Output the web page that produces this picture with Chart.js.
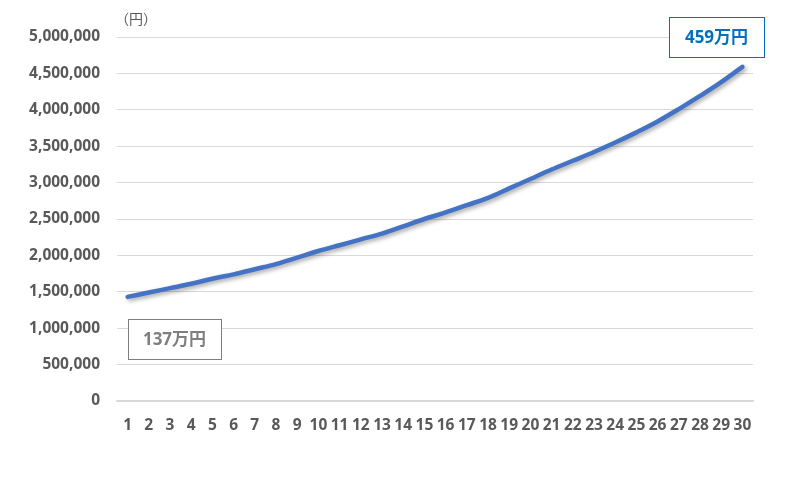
<!DOCTYPE html>
<html>
<head>
<meta charset="utf-8">
<script src="https://cdn.jsdelivr.net/npm/chart.js@4/dist/chart.umd.min.js"></script>
<style>
  html, body { margin: 0; padding: 0; background: #fff; }
  #wrap { width: 804px; height: 498px; }
</style>
</head>
<body>
<div id="wrap"><canvas id="chart" width="804" height="498"></canvas></div>
<script>
const years = ['1','2','3','4','5','6','7','8','9','10','11','12','13','14','15','16','17','18','19','20','21','22','23','24','25','26','27','28','29','30'];
const amounts = [1430000, 1490000, 1550000, 1610000, 1680000, 1740000, 1810000, 1880000, 1970000, 2060000,
                 2140000, 2220000, 2300000, 2400000, 2500000, 2590000, 2690000, 2790000, 2920000, 3050000,
                 3180000, 3300000, 3420000, 3550000, 3690000, 3840000, 4010000, 4190000, 4380000, 4590000];
const startLabel = '137万円';
const endLabel = '459万円';
const unitLabel = '（円）';

const FONT = "'Noto Sans', 'Noto Sans CJK JP', sans-serif";

// drop shadow under the line, like the Excel original
const lineShadow = {
  id: 'lineShadow',
  beforeDatasetsDraw(chart) {
    const ctx = chart.ctx;
    ctx.save();
    ctx.shadowColor = 'rgba(0,0,0,0.35)';
    ctx.shadowBlur = 4;
    ctx.shadowOffsetX = 2;
    ctx.shadowOffsetY = 2;
  },
  afterDatasetsDraw(chart) {
    chart.ctx.restore();
  }
};

// text boxes and the unit label
const callouts = {
  id: 'callouts',
  afterDraw(chart) {
    const ctx = chart.ctx;
    const area = chart.chartArea;
    const meta = chart.getDatasetMeta(0);
    const first = meta.data[0];
    const last = meta.data[meta.data.length - 1];

    ctx.save();
    ctx.font = '14px ' + FONT;
    ctx.fillStyle = '#595959';
    ctx.textBaseline = 'middle';
    ctx.textAlign = 'left';
    ctx.fillText(unitLabel, area.left - 2, 20);

    function box(text, x, y, w, h, color) {
      ctx.fillStyle = '#fff';
      ctx.fillRect(x, y, w, h);
      ctx.strokeStyle = color;
      ctx.lineWidth = 1;
      ctx.strokeRect(x + 0.5, y + 0.5, w, h);
      ctx.fillStyle = color;
      ctx.font = 'bold 17px ' + FONT;
      ctx.textAlign = 'center';
      ctx.textBaseline = 'middle';
      ctx.fillText(text, x + w / 2, y + h / 2 + 1);
    }
    box(startLabel, Math.round(first.x), Math.round(first.y) + 22, 93, 40, '#7f7f7f');
    box(endLabel, Math.round(last.x) - 73, 17, 95, 40, '#0070c0');
    ctx.restore();
  }
};

new Chart(document.getElementById('chart'), {
  type: 'line',
  data: {
    labels: years,
    datasets: [{
      data: amounts,
      borderColor: '#4472c4',
      borderWidth: 4.5,
      borderCapStyle: 'round',
      borderJoinStyle: 'round',
      pointRadius: 0,
      tension: 0.35,
      fill: false
    }]
  },
  options: {
    responsive: false,
    animation: false,
    layout: { padding: { top: 37, right: 51, bottom: 57, left: 0 } },
    plugins: { legend: { display: false }, tooltip: { enabled: false } },
    scales: {
      x: {
        offset: true,
        grid: { display: false },
        border: { display: true, color: '#d9d9d9', width: 1.5 },
        ticks: {
          color: '#595959',
          font: { family: FONT, size: 15.5, weight: 'bold' },
          maxRotation: 0,
          autoSkip: false,
          padding: 7
        },
        afterFit(scale) { scale.height = 40; }
      },
      y: {
        min: 0,
        max: 5000000,
        grid: { color: '#d9d9d9', drawTicks: false },
        border: { display: false },
        ticks: {
          stepSize: 500000,
          color: '#595959',
          font: { family: FONT, size: 15.5, weight: 'bold' },
          padding: 17,
          callback: v => v.toLocaleString('en-US')
        },
        afterFit(scale) { scale.width = 117; }
      }
    }
  },
  plugins: [lineShadow, callouts]
});
</script>
</body>
</html>
